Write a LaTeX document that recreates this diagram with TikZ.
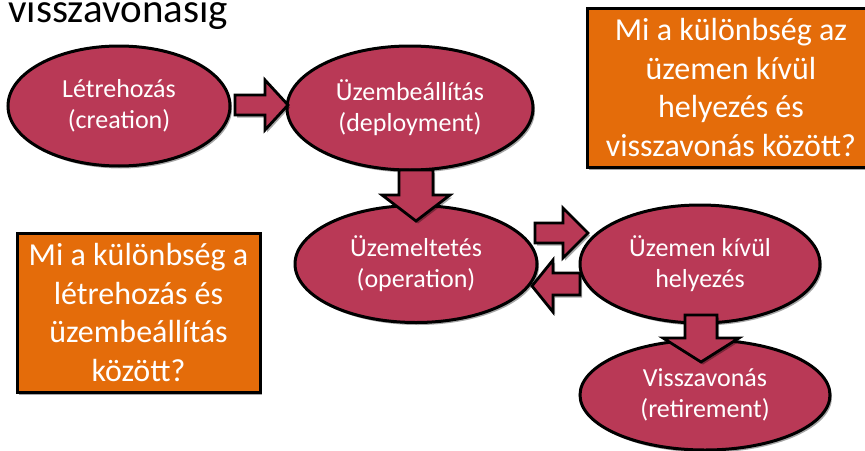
\documentclass[tikz,border=0pt]{standalone}
\usepackage{fontspec}
\setmainfont{Carlito}
\usetikzlibrary{shapes.geometric,shadows}
\definecolor{crim}{RGB}{185,57,86}
\definecolor{orng}{RGB}{228,108,10}
\tikzset{
  shad/.style={drop shadow={shadow xshift=2pt,shadow yshift=-2.5pt,opacity=0.35,fill=black}},
  stage/.style={ellipse,draw=black,line width=3pt,fill=crim,text=white,align=center,
     font=\fontsize{26}{31}\selectfont,inner sep=0pt,shad},
  qbox/.style={rectangle,draw=black,line width=3pt,fill=orng,text=white,align=center,
     font=\fontsize{32}{38.5}\selectfont,inner sep=0pt,shad},
  barrow/.style={draw=black,line width=2.8pt,fill=crim,line join=miter,shad}
}
\begin{document}
\begin{tikzpicture}[x=1pt,y=-1pt]
\useasboundingbox (0,0) rectangle (865,450);
\fill[white] (0,0) rectangle (865,450);
\node[anchor=base west,inner sep=0pt,font=\fontsize{41}{48}\selectfont] (title) at (8,22) {visszavonásig};
% stages
\node[stage,minimum width=222pt,minimum height=120pt] (A) at (119,106) {Létrehozás\\(creation)};
\node[stage,minimum width=246pt,minimum height=124pt] (B) at (410,108) {Üzembeállítás\\(deployment)};
\node[stage,minimum width=242pt,minimum height=117pt] (C) at (416,264) {Üzemeltetés\\(operation)};
\node[stage,minimum width=240pt,minimum height=118pt] (D) at (700,264) {Üzemen kívül\\helyezés};
\node[stage,minimum width=250pt,minimum height=110pt] (E) at (705,395) {Visszavonás\\(retirement)};
% questions
\node[qbox,minimum width=243pt,minimum height=159pt] (Q1) at (138.5,312.5) {Mi a különbség a\\létrehozás és\\üzembeállítás\\között?};
\node[qbox,minimum width=288pt,minimum height=159pt] (Q2) at (731,87.5) {Mi a különbség az\\üzemen kívül\\helyezés és\\visszavonás között?};
% block arrows
\draw[barrow] (235,95)--(265,95)--(265,80)--(288,105)--(265,130)--(265,115)--(235,115)--cycle;
\draw[barrow] (399,170)--(433,170)--(433,195)--(450,195)--(416,221)--(382,195)--(399,195)--cycle;
\draw[barrow] (535,223)--(563,223)--(563,208)--(588,233)--(563,258)--(563,243)--(535,243)--cycle;
\draw[barrow] (580,273)--(553,273)--(553,260)--(532,286)--(553,312)--(553,295)--(580,295)--cycle;
\draw[barrow] (685,315)--(717,315)--(717,338)--(739,338)--(701,362)--(663,338)--(685,338)--cycle;
\end{tikzpicture}
\end{document}
